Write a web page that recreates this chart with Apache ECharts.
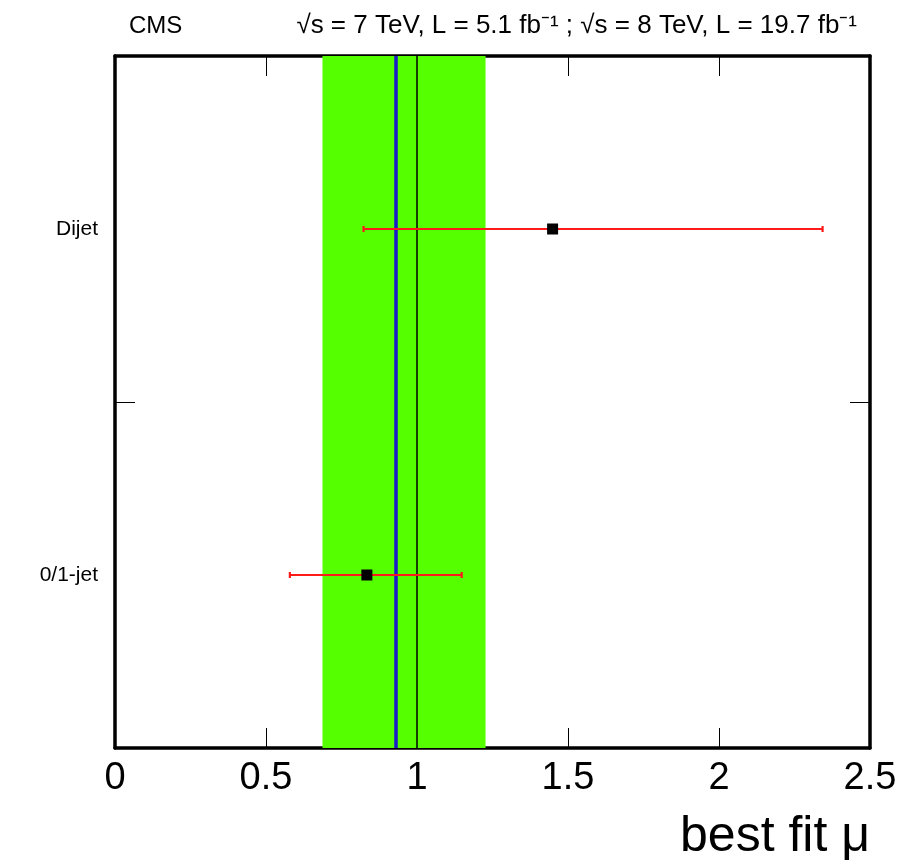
<!DOCTYPE html>
<html>
<head>
<meta charset="utf-8">
<script src="https://cdn.jsdelivr.net/npm/echarts@6/dist/echarts.min.js"></script>
<style>html,body{margin:0;padding:0;background:#fff}#c{width:922px;height:866px}</style>
</head>
<body>
<div id="c"></div>
<script>
// ---- data ----
var categories = ['0/1-jet', 'Dijet'];
var muValues = [0.834, 1.449];
var errLow = [0.579, 0.823];
var errHigh = [1.148, 2.343];
var combinedMu = 0.929;
var combinedBand = [0.687, 1.227];
var smValue = 1.0;
var xTicks = [0, 0.5, 1, 1.5, 2, 2.5];

var font = 'Liberation Sans, Arial, Helvetica, sans-serif';
var chart = echarts.init(document.getElementById('c'), null, {renderer: 'canvas'});

var errData = categories.map(function (c, i) { return [errLow[i], errHigh[i], c]; });
var ptData = categories.map(function (c, i) { return [muValues[i], c]; });

chart.setOption({
  animation: false,
  backgroundColor: '#fff',
  title: [
    {text: 'CMS', left: 124, top: 9, textStyle: {fontFamily: font, fontSize: 24, fontWeight: 'normal', color: '#000'}},
    {text: '\u221As = 7 TeV, L = 5.1 fb\u207B\u00B9 ; \u221As = 8 TeV, L = 19.7 fb\u207B\u00B9', right: 60, top: 8,
     textStyle: {fontFamily: font, fontSize: 26, fontWeight: 'normal', color: '#000'}}
  ],
  grid: {left: 115, right: 52, top: 56, bottom: 118, containLabel: false},
  xAxis: [
    {type: 'value', min: 0, max: 2.5, interval: 0.5, position: 'bottom',
     axisLine: {show: true, onZero: false, lineStyle: {color: '#000', width: 3.5}},
     axisTick: {show: true, inside: true, length: 20, lineStyle: {color: '#000', width: 1}},
     axisLabel: {show: true, margin: 12, fontFamily: font, fontSize: 38, color: '#000',
       formatter: function (v) { return xTicks.indexOf(v) >= 0 ? String(v) : ''; }},
     splitLine: {show: false},
     name: 'best fit \u03BC', nameLocation: 'end', nameGap: 0,
     nameTextStyle: {fontFamily: font, fontSize: 50, color: '#000', align: 'right', verticalAlign: 'top', padding: [64, 0, 0, 0]}},
    {type: 'value', min: 0, max: 2.5, interval: 0.5, position: 'top',
     axisLine: {show: true, onZero: false, lineStyle: {color: '#000', width: 3.5}},
     axisTick: {show: true, inside: true, length: 20, lineStyle: {color: '#000', width: 1}},
     axisLabel: {show: false}, splitLine: {show: false}}
  ],
  yAxis: [
    {type: 'category', data: categories, position: 'left', boundaryGap: true,
     axisLine: {show: true, onZero: false, lineStyle: {color: '#000', width: 3.5}},
     axisTick: {show: true, inside: true, length: 20, lineStyle: {color: '#000', width: 1}},
     axisLabel: {show: true, margin: 17, fontFamily: font, fontSize: 21, color: '#000'},
     splitLine: {show: false}},
    {type: 'category', data: categories, position: 'right', boundaryGap: true,
     axisLine: {show: true, onZero: false, lineStyle: {color: '#000', width: 3.5}},
     axisTick: {show: true, inside: true, length: 20, lineStyle: {color: '#000', width: 1}},
     axisLabel: {show: false}, splitLine: {show: false}}
  ],
  series: [
    {type: 'line', xAxisIndex: 0, yAxisIndex: 0, data: [], silent: true,
     markArea: {silent: true, itemStyle: {color: '#55ff00', opacity: 1},
       data: [[{xAxis: combinedBand[0]}, {xAxis: combinedBand[1]}]]},
     markLine: {silent: true, symbol: 'none', label: {show: false},
       data: [
         {xAxis: combinedMu, lineStyle: {color: '#1a1acc', width: 3.5, type: 'solid'}},
         {xAxis: smValue, lineStyle: {color: '#000', width: 1.5, type: 'solid'}}
       ]}},
    {type: 'custom', xAxisIndex: 0, yAxisIndex: 0, data: errData, z: 5,
     renderItem: function (params, api) {
       var a = api.coord([api.value(0), api.value(2)]);
       var b = api.coord([api.value(1), api.value(2)]);
       var st = {stroke: '#ff1a1a', lineWidth: 2.2};
       return {type: 'group', children: [
         {type: 'line', shape: {x1: a[0], y1: a[1], x2: b[0], y2: b[1]}, style: st},
         {type: 'line', shape: {x1: a[0], y1: a[1] - 3, x2: a[0], y2: a[1] + 3}, style: st},
         {type: 'line', shape: {x1: b[0], y1: b[1] - 3, x2: b[0], y2: b[1] + 3}, style: st}
       ]};
     }},
    {type: 'scatter', xAxisIndex: 0, yAxisIndex: 0, data: ptData, symbol: 'rect', symbolSize: 11, z: 6,
     itemStyle: {color: '#000', opacity: 1}}
  ]
});
</script>
</body>
</html>
